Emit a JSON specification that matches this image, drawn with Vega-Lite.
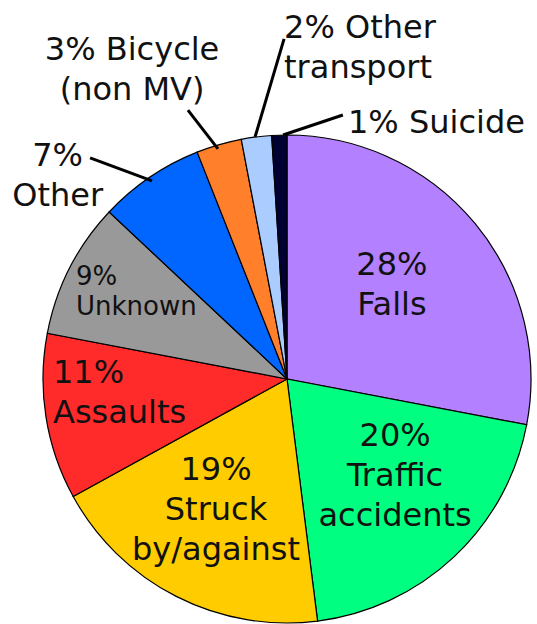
{
  "$schema": "https://vega.github.io/schema/vega-lite/v6.json",
  "width": 537,
  "height": 624,
  "padding": 0,
  "autosize": {"type": "none"},
  "background": "white",
  "config": {"view": {"stroke": null}, "text": {"font": "DejaVu Sans", "color": "#111111"}},
  "datasets": {
    "slices": [
      {"cause": "Falls", "pct": 28, "ord": 1, "label": "28%\nFalls", "lx": 0.43, "ly": 0.426},
      {"cause": "Traffic accidents", "pct": 20, "ord": 2, "label": "20%\nTraffic\naccidents", "lx": 0.443, "ly": -0.275},
      {"cause": "Struck by/against", "pct": 19, "ord": 3, "label": "19%\nStruck\nby/against", "lx": -0.291, "ly": -0.414},
      {"cause": "Assaults", "pct": 11, "ord": 4, "label": "11%\nAssaults", "lx": -0.959, "ly": -0.016},
      {"cause": "Unknown", "pct": 9, "ord": 5, "label": "9%\nUnknown", "lx": -0.865, "ly": 0.385},
      {"cause": "Other", "pct": 7, "ord": 6, "label": "7%\nOther", "lx": -0.94, "ly": 0.873},
      {"cause": "Bicycle (non MV)", "pct": 3, "ord": 7, "label": "3% Bicycle\n(non MV)", "lx": -0.635, "ly": 1.307},
      {"cause": "Other transport", "pct": 2, "ord": 8, "label": "2% Other\ntransport", "lx": -0.012, "ly": 1.398},
      {"cause": "Suicide", "pct": 1, "ord": 9, "label": "1% Suicide", "lx": 0.25, "ly": 1.008}
    ],
    "leaders": [
      {"cause": "Other", "x1": -0.807, "y1": 0.906, "x2": -0.553, "y2": 0.812},
      {"cause": "Bicycle (non MV)", "x1": -0.406, "y1": 1.102, "x2": -0.283, "y2": 0.943},
      {"cause": "Other transport", "x1": -0.012, "y1": 1.394, "x2": -0.131, "y2": 0.992},
      {"cause": "Suicide", "x1": -0.016, "y1": 1.0, "x2": 0.229, "y2": 1.082}
    ]
  },
  "layer": [
    {
      "data": {"name": "slices"},
      "mark": {"type": "arc", "outerRadius": 244, "stroke": "#000000", "strokeWidth": 1.2},
      "encoding": {
        "theta": {"field": "pct", "type": "quantitative", "stack": true},
        "order": {"field": "ord", "type": "quantitative"},
        "color": {
          "field": "cause",
          "type": "nominal",
          "scale": {
            "domain": ["Falls", "Traffic accidents", "Struck by/against", "Assaults", "Unknown", "Other", "Bicycle (non MV)", "Other transport", "Suicide"],
            "range": ["#b380ff", "#00ff80", "#ffcc00", "#ff2a2a", "#999999", "#0066ff", "#ff7f2a", "#aaccff", "#000033"]
          },
          "legend": null
        },
        "x": {"datum": 0, "type": "quantitative", "scale": {"domain": [-1.1762, 1.0246], "nice": false, "zero": false}, "axis": null},
        "y": {"datum": 0, "type": "quantitative", "scale": {"domain": [-1.0041, 1.5533], "nice": false, "zero": false}, "axis": null}
      }
    },
    {
      "data": {"name": "leaders"},
      "mark": {"type": "rule", "strokeWidth": 3, "color": "#000000"},
      "encoding": {
        "x": {"field": "x1", "type": "quantitative", "axis": null},
        "y": {"field": "y1", "type": "quantitative", "axis": null},
        "x2": {"field": "x2"},
        "y2": {"field": "y2"}
      }
    },
    {
      "data": {"name": "slices"},
      "transform": [{"filter": "indexof(['Falls','Traffic accidents','Struck by/against','Other','Bicycle (non MV)'], datum.cause) >= 0"}],
      "mark": {"type": "text", "align": "center", "baseline": "alphabetic", "fontSize": 32, "lineHeight": 40, "lineBreak": "\n"},
      "encoding": {
        "x": {"field": "lx", "type": "quantitative", "axis": null},
        "y": {"field": "ly", "type": "quantitative", "axis": null},
        "text": {"field": "label"}
      }
    },
    {
      "data": {"name": "slices"},
      "transform": [{"filter": "indexof(['Assaults','Other transport','Suicide'], datum.cause) >= 0"}],
      "mark": {"type": "text", "align": "left", "baseline": "alphabetic", "fontSize": 32, "lineHeight": 40, "lineBreak": "\n"},
      "encoding": {
        "x": {"field": "lx", "type": "quantitative", "axis": null},
        "y": {"field": "ly", "type": "quantitative", "axis": null},
        "text": {"field": "label"}
      }
    },
    {
      "data": {"name": "slices"},
      "transform": [{"filter": "datum.cause === 'Unknown'"}],
      "mark": {"type": "text", "align": "left", "baseline": "alphabetic", "fontSize": 26, "lineHeight": 30, "lineBreak": "\n"},
      "encoding": {
        "x": {"field": "lx", "type": "quantitative", "axis": null},
        "y": {"field": "ly", "type": "quantitative", "axis": null},
        "text": {"field": "label"}
      }
    }
  ]
}
